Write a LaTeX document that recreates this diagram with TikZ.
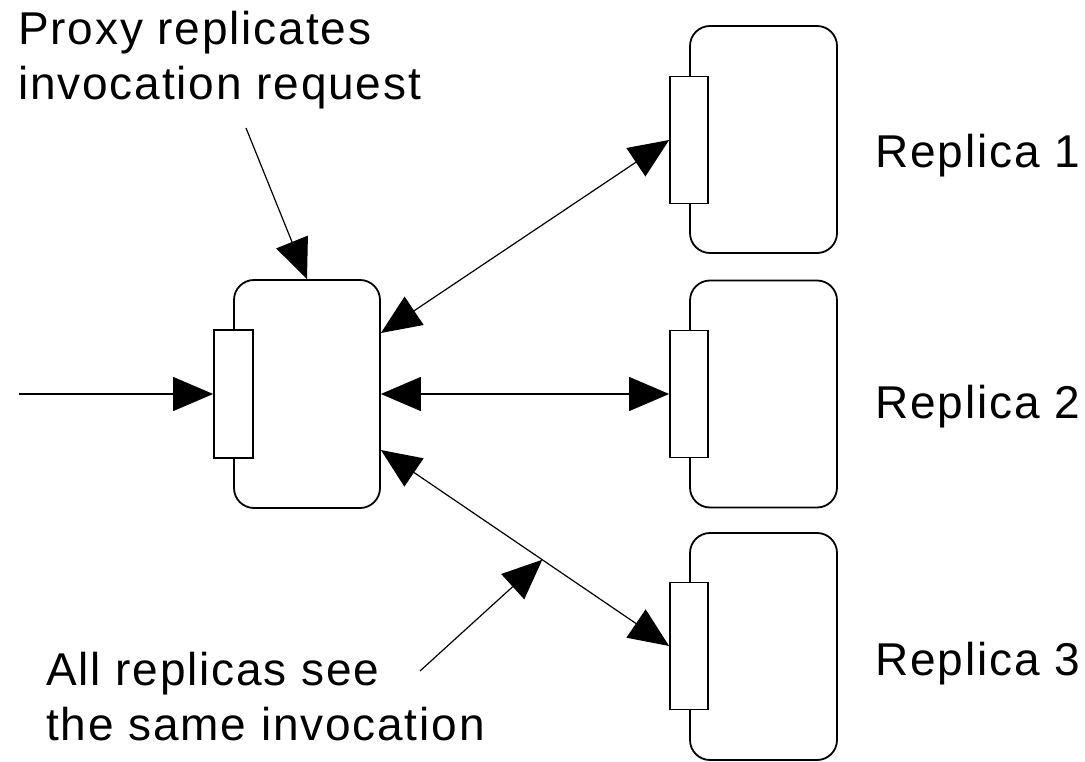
\documentclass[tikz,border=0pt]{standalone}
\usepackage{fontspec}
\setmainfont{Liberation Sans}[LetterSpace=4]
\usetikzlibrary{arrows.meta,calc}
\begin{document}
\begin{tikzpicture}[x=1pt,y=-1pt,
  lbl/.style={font=\fontsize{46}{55}\selectfont, inner sep=0pt, align=left},
  obj/.style={draw, line width=1.8pt, rounded corners=20pt, minimum width=146pt, minimum height=228pt, inner sep=0pt},
  iface/.style={draw, fill=white, line width=1.8pt, minimum width=39pt, minimum height=128pt, inner sep=0pt},
  conn/.style={line width=1.2pt, -{Triangle[length=40pt,width=34pt]}},
  biconn/.style={line width=1.2pt, {Triangle[length=40pt,width=34pt]}-{Triangle[length=40pt,width=34pt]}}
]
\useasboundingbox (0,0) rectangle (1085,762);
% proxy
\node[obj] (proxy) at (307,394) {};
\node[iface] (proxyi) at (233.5,394) {};
% replicas
\node[obj, minimum width=147pt, minimum height=227pt] (r1) at (763.5,139.5) {};
\node[iface, minimum width=38pt, minimum height=127pt] (r1i) at (689,140) {};
\node[obj, minimum width=147pt, minimum height=227pt] (r2) at (763.5,394) {};
\node[iface, minimum width=38pt, minimum height=127pt] (r2i) at (689,394) {};
\node[obj, minimum width=147pt, minimum height=227pt] (r3) at (763.5,646.5) {};
\node[iface, minimum width=38pt, minimum height=127pt] (r3i) at (689,646) {};
% labels
\node[lbl, anchor=base west] (t1) at (18,45) {Proxy replicates};
\node[lbl, anchor=base west] (t2) at (18,100) {invocation request};
\node[lbl, anchor=base west] (t3) at (46,685) {All replicas see};
\node[lbl, anchor=base west] (t4) at (46,740) {the same invocation};
\node[lbl, anchor=base west] (l1) at (875,168) {Replica 1};
\node[lbl, anchor=base west] (l2) at (875,418) {Replica 2};
\node[lbl, anchor=base west] (l3) at (875,675) {Replica 3};
% connector points
\coordinate (in) at (19,394);
\coordinate (p1) at ($(proxy.east)+(0,-61)$);
\coordinate (p3) at ($(proxy.east)+(0,56)$);
\coordinate (a1) at (246,128);
\coordinate (a2) at (420,671);
\coordinate (mid) at ($(p3)!0.56!(r3i.west)$);
% connectors
\draw[conn] (in) -- (proxyi.west);
\draw[biconn] (p1) -- (r1i.west);
\draw[biconn] (proxy.east) -- (r2i.west);
\draw[biconn] (p3) -- (r3i.west);
\draw[conn] (a1) -- (proxy.north);
\draw[conn] (a2) -- (mid);
\end{tikzpicture}
\end{document}
